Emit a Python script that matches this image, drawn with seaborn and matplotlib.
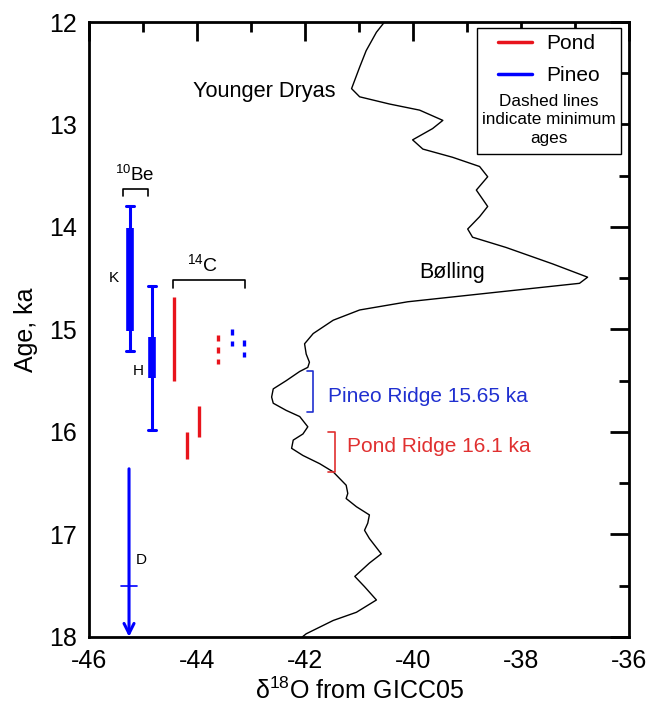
import numpy as np
import pandas as pd
import matplotlib
matplotlib.use("Agg")
import matplotlib.pyplot as plt
from matplotlib.lines import Line2D
from matplotlib.patches import Rectangle
import seaborn as sns

# GICC05 d18O record
age_ka = [12.00, 12.10, 12.28, 12.44, 12.65, 12.73, 12.80, 12.86, 12.96, 13.04,
          13.15, 13.24, 13.32, 13.41, 13.51, 13.64, 13.80, 13.90, 14.02, 14.10,
          14.20, 14.36, 14.49, 14.55, 14.62, 14.73, 14.81, 14.91, 15.04, 15.14,
          15.24, 15.32, 15.37, 15.41, 15.50, 15.58, 15.66, 15.72, 15.79, 15.85,
          15.95, 16.02, 16.08, 16.16, 16.23, 16.31, 16.39, 16.52, 16.60, 16.65,
          16.73, 16.81, 16.89, 16.96, 17.04, 17.19, 17.28, 17.41, 17.51, 17.64,
          17.76, 17.84, 17.97, 18.00]
d18o = [-40.53, -40.68, -40.87, -40.99, -41.14, -40.99, -40.44, -39.88, -39.45, -39.64,
        -40.01, -39.82, -39.27, -38.77, -38.62, -38.83, -38.62, -38.77, -38.99, -38.90,
        -38.28, -37.42, -36.77, -36.92, -38.16, -40.10, -40.99, -41.48, -41.85, -42.01,
        -41.98, -41.92, -41.95, -42.10, -42.35, -42.59, -42.62, -42.59, -42.35, -42.10,
        -41.95, -42.04, -42.22, -42.25, -42.04, -41.73, -41.48, -41.24, -41.21, -41.24,
        -41.05, -40.81, -40.84, -40.90, -40.81, -40.59, -40.81, -41.08, -40.90, -40.68,
        -41.05, -41.48, -41.98, -42.05]

# 10Be ages (Pineo): label, x position, whisker range, thick range
be_labels = ["K", "H"]
be_x = [-45.24, -44.84]
be_lo = [13.80, 14.58]
be_hi = [15.21, 15.98]
be_box_lo = [14.01, 15.07]
be_box_hi = [15.02, 15.47]

# 14C ages
c14_x = [-44.43, -43.96, -44.19]
c14_lo = [14.68, 15.75, 16.00]
c14_hi = [15.50, 16.05, 16.26]
c14_color = ["red", "red", "red"]

# minimum ages (dashed)
min_x = [-43.61, -43.36, -43.13]
min_lo = [15.05, 15.00, 15.10]
min_hi = [15.34, 15.16, 15.27]
min_color = ["red", "blue", "blue"]

# sample D (minimum, arrow)
d_x = -45.26
d_top = 16.36
d_mark = 17.5

RED = "#e8141c"
BLUE = "#0000ff"
cmap = {"red": RED, "blue": BLUE}

sns.set_style("white")
plt.rcParams["font.family"] = ["Liberation Sans", "DejaVu Sans"]
plt.rcParams["mathtext.default"] = "regular"
plt.rcParams["axes.unicode_minus"] = False
plt.rcParams["text.color"] = "black"
plt.rcParams["axes.labelcolor"] = "black"
plt.rcParams["xtick.color"] = "black"
plt.rcParams["ytick.color"] = "black"

fig = plt.figure(figsize=(6.5, 7.1), dpi=100)
ax = fig.add_axes([0.137, 0.103, 0.831, 0.866])

df = pd.DataFrame({"d18o": d18o, "age": age_ka})
sns.lineplot(data=df, x="d18o", y="age", sort=False, estimator=None,
             color="black", lw=1.0, ax=ax)

# 10Be bars
for lab, x, lo, hi, blo, bhi in zip(be_labels, be_x, be_lo, be_hi, be_box_lo, be_box_hi):
    ax.plot([x, x], [lo, hi], color=BLUE, lw=2.2, solid_capstyle="butt")
    ax.plot([x - 0.075, x + 0.075], [lo, lo], color=BLUE, lw=2.2)
    ax.plot([x - 0.075, x + 0.075], [hi, hi], color=BLUE, lw=2.2)
    ax.plot([x, x], [blo, bhi], color=BLUE, lw=5.5, solid_capstyle="butt")
ax.text(-45.55, 14.5, "K", fontsize=11, ha="center", va="center")
ax.text(-45.09, 15.41, "H", fontsize=11, ha="center", va="center")

# 14C
for x, lo, hi, c in zip(c14_x, c14_lo, c14_hi, c14_color):
    ax.plot([x, x], [lo, hi], color=cmap[c], lw=2.4, solid_capstyle="butt")
for x, lo, hi, c in zip(min_x, min_lo, min_hi, min_color):
    ax.plot([x, x], [lo, hi], color=cmap[c], lw=2.4, ls=(0, (1.8, 1.8)),
            dash_capstyle="butt")

# D arrow
ax.annotate("", xy=(d_x, 18.0), xytext=(d_x, d_top),
            arrowprops=dict(arrowstyle="->", color=BLUE, lw=2.2,
                            mutation_scale=18, shrinkA=0, shrinkB=0))
ax.plot([d_x - 0.14, d_x + 0.14], [d_mark, d_mark], color=BLUE, lw=1.2)
ax.text(-45.03, 17.25, "D", fontsize=11, ha="center", va="center")

# brackets
ax.plot([-45.38, -45.38, -44.90, -44.90], [13.70, 13.63, 13.63, 13.70], color="black", lw=1.2)
ax.text(-45.15, 13.49, "$^{10}$Be", fontsize=13.5, ha="center", va="center")
ax.plot([-44.44, -44.44, -43.12, -43.12], [14.60, 14.52, 14.52, 14.60], color="black", lw=1.2)
ax.text(-43.89, 14.36, "$^{14}$C", fontsize=14, ha="center", va="center")

ax.plot([-41.97, -41.85, -41.85, -41.97], [15.41, 15.41, 15.81, 15.81], color="#2030d0", lw=1.2)
ax.text(-41.58, 15.65, "Pineo Ridge 15.65 ka", color="#2030d0", fontsize=15,
        ha="left", va="center")
ax.plot([-41.58, -41.45, -41.45, -41.58], [16.00, 16.00, 16.39, 16.39], color="#e03030", lw=1.2)
ax.text(-41.23, 16.14, "Pond Ridge 16.1 ka", color="#e03030", fontsize=15,
        ha="left", va="center")

ax.text(-42.75, 12.68, "Younger Dryas", fontsize=15.7, ha="center", va="center")
ax.text(-39.27, 14.44, "Bølling", fontsize=15.5, ha="center", va="center")

# legend box
ax.add_patch(Rectangle((0.718, 0.786), 0.267, 0.205, transform=ax.transAxes,
                       fill=True, facecolor="white", edgecolor="black", lw=1.0, zorder=5))
handles = [Line2D([], [], color=RED, lw=2.5), Line2D([], [], color=BLUE, lw=2.5)]
leg = ax.legend(handles, ["Pond", "Pineo"], loc="upper left",
                bbox_to_anchor=(0.754, 0.984), frameon=False, fontsize=15,
                handlelength=1.6, handletextpad=0.72, labelspacing=0.62,
                borderpad=0.1, borderaxespad=0)
leg.set_zorder(6)
ax.text(0.851, 0.841, "Dashed lines\nindicate minimum\nages", transform=ax.transAxes,
        fontsize=12.3, ha="center", va="center", linespacing=1.3, zorder=6)

ax.set_xlim(-46, -36)
ax.set_ylim(18, 12)
ax.set_xticks(np.arange(-46, -35, 2))
ax.set_xticks(np.arange(-45, -36, 2), minor=True)
ax.set_yticks(np.arange(12, 18.1, 1))
ax.set_yticks(np.arange(12.5, 18, 1), minor=True)
ax.tick_params(which="both", direction="in", top=True, right=True,
               labelsize=18, width=2.0, pad=9)
ax.tick_params(which="major", length=13.5)
ax.tick_params(which="minor", length=7)
for s in ax.spines.values():
    s.set_linewidth(2.0)
    s.set_color("black")

ax.set_xlabel("δ$^{18}$O from GICC05", fontsize=18, labelpad=3)
ax.set_ylabel("Age, ka", fontsize=18, labelpad=8)

fig.savefig("out.png", dpi=100)
